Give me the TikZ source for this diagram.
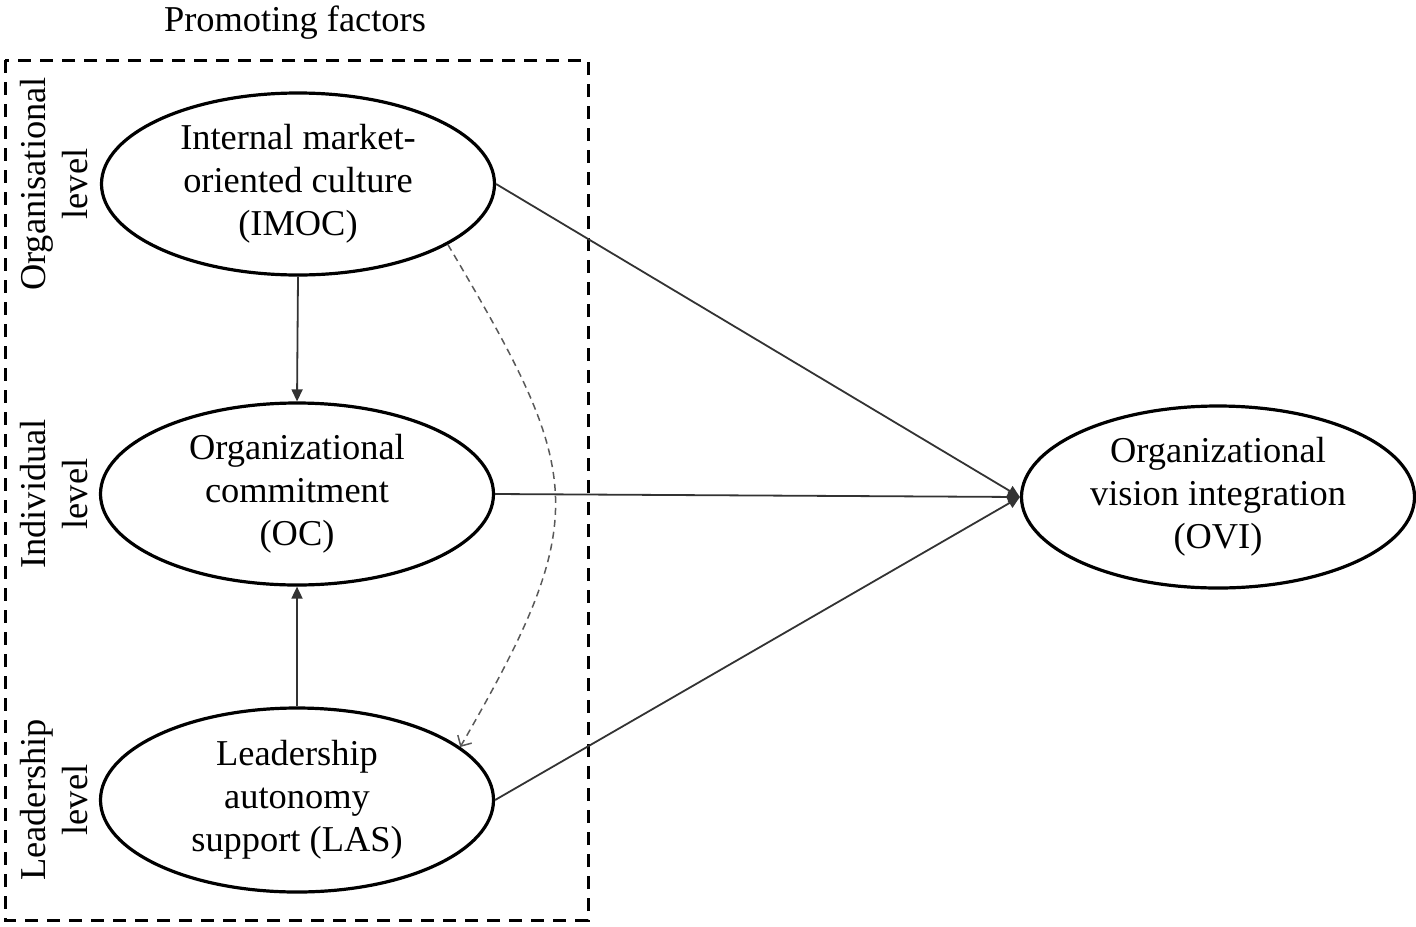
\documentclass[tikz,border=0pt]{standalone}
\usepackage{fontspec}
\setmainfont{Liberation Serif}
\usetikzlibrary{positioning, arrows, arrows.meta, shapes}

\newcommand{\diagfont}{\fontsize{18.2}{21.4}\selectfont}

\tikzset{
  factor/.style={draw, line width=1.6pt, ellipse, minimum width=196.5pt, minimum height=91pt, inner sep=0pt, align=center, font=\diagfont},
  levellabel/.style={rotate=90, align=center, inner sep=0pt, font=\diagfont},
  link/.style={draw=black!80, line width=0.9pt, -{Triangle[length=6pt,width=5.5pt]}},
  effect/.style={draw=black!65, line width=0.75pt, dash pattern=on 3.5pt off 2.5pt, -{Straight Barb[length=4pt,width=8pt]}},
}

\begin{document}
\begin{tikzpicture}[x=0.5pt,y=-0.5pt]
\useasboundingbox (0,0) rectangle (1416,926);
% Promoting factors box
\draw [line width=1.5pt, dash pattern=on 6.5pt off 4.5pt] (5,60) rectangle (588,920);
\node (title) [anchor=base, font=\diagfont] at (295,31) {Promoting factors};
% Level labels
\node (orglevel) [levellabel] at (54,184) {Organisational\\level};
\node (indlevel) [levellabel] at (54,494) {Individual\\level};
\node (leadlevel) [levellabel] at (54,800) {Leadership\\level};
% Factors
\node (imoc) [factor] at (298,184) {Internal market-\\oriented culture\\(IMOC)};
\node (oc) [factor] at (297,494) {Organizational\\commitment\\(OC)};
\node (las) [factor, minimum height=92pt] at (297,800) {Leadership\\autonomy\\support (LAS)};
\node (ovi) [factor] at (1218,497) {Organizational\\vision integration\\(OVI)};
% Paths
\draw [link] (imoc.south) -- (oc.north);
\draw [link] (las.north) -- (oc.south);
\draw [link] (imoc.east) -- (ovi.west);
\draw [link] (oc.east) -- (ovi.west);
\draw [link] (las.east) -- (ovi.west);
\draw [effect] (imoc.-22) .. controls +(136,230) and +(134,-232) .. (las.18);
\end{tikzpicture}
\end{document}
